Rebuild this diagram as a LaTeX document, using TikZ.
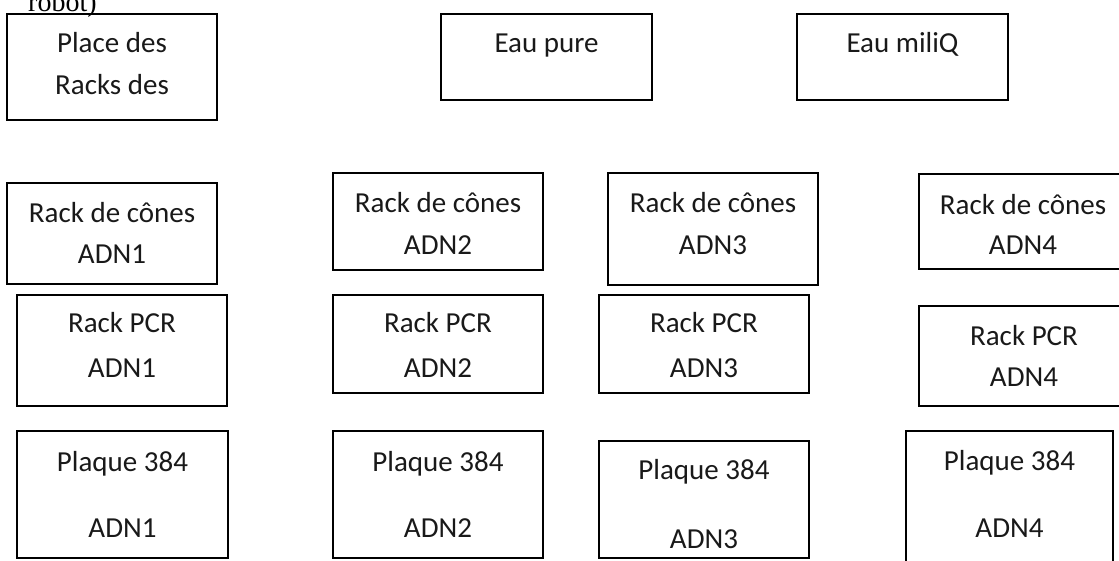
\documentclass[tikz,border=0pt]{standalone}
\usepackage{fontspec}
\setmainfont{Carlito}
\newfontfamily\serifrm{Liberation Serif}
\tikzset{
  boxn/.style={draw=black, line width=1.4pt, inner sep=0pt, fill=none},
  lbl/.style={anchor=base, inner sep=0pt, font=\fontsize{29}{35}\selectfont, text=black!90},
}
\begin{document}
\begin{tikzpicture}[x=1pt,y=-1pt]
\useasboundingbox (0,0) rectangle (1119,561);
\clip (0,0) rectangle (1119,561);
% top row
\node[anchor=base west, inner sep=0pt, font=\serifrm\fontsize{28}{32}\selectfont] (robot) at (28,12) {robot)};
\node[boxn, minimum width=210pt, minimum height=106pt] (place) at (112,67) {};
\node[lbl] (place1) at (112,53) {Place des};
\node[lbl] (place2) at (112,95) {Racks des};
\node[boxn, minimum width=211pt, minimum height=86pt] (eaup) at (546.5,57) {};
\node[lbl] (eaup1) at (546.5,53) {Eau pure};
\node[boxn, minimum width=211pt, minimum height=86pt] (eaum) at (902.5,57) {};
\node[lbl] (eaum1) at (902.5,53) {Eau miliQ};
% row 2: cones
\node[boxn, minimum width=210pt, minimum height=101pt] (c1) at (112,233.5) {};
\node[lbl] (c1a) at (112,223) {Rack de cônes};
\node[lbl] (c1b) at (112,264) {ADN1};
\node[boxn, minimum width=210pt, minimum height=97pt] (c2) at (438,221.5) {};
\node[lbl] (c2a) at (438,213) {Rack de cônes};
\node[lbl] (c2b) at (438,255) {ADN2};
\node[boxn, minimum width=210pt, minimum height=112pt] (c3) at (713,229) {};
\node[lbl] (c3a) at (713,213) {Rack de cônes};
\node[lbl] (c3b) at (713,255) {ADN3};
\node[boxn, minimum width=210pt, minimum height=95pt] (c4) at (1024,221.5) {};
\node[lbl] (c4a) at (1023,215) {Rack de cônes};
\node[lbl] (c4b) at (1023,255) {ADN4};
% row 3: PCR
\node[boxn, minimum width=210pt, minimum height=111pt] (p1) at (122,350.5) {};
\node[lbl] (p1a) at (122,333) {Rack PCR};
\node[lbl] (p1b) at (122,377) {ADN1};
\node[boxn, minimum width=210pt, minimum height=98pt] (p2) at (438,344) {};
\node[lbl] (p2a) at (438,333) {Rack PCR};
\node[lbl] (p2b) at (438,377) {ADN2};
\node[boxn, minimum width=210pt, minimum height=98pt] (p3) at (704,344) {};
\node[lbl] (p3a) at (704,333) {Rack PCR};
\node[lbl] (p3b) at (704,377) {ADN3};
\node[boxn, minimum width=210pt, minimum height=100pt] (p4) at (1024,356) {};
\node[lbl] (p4a) at (1024,345) {Rack PCR};
\node[lbl] (p4b) at (1024,386) {ADN4};
% row 4: plates
\node[boxn, minimum width=211pt, minimum height=127pt] (q1) at (122.5,494.5) {};
\node[lbl] (q1a) at (122.5,471) {Plaque 384};
\node[lbl] (q1b) at (122.5,537) {ADN1};
\node[boxn, minimum width=210pt, minimum height=127pt] (q2) at (438,494.5) {};
\node[lbl] (q2a) at (438,471) {Plaque 384};
\node[lbl] (q2b) at (438,537) {ADN2};
\node[boxn, minimum width=210pt, minimum height=117pt] (q3) at (704,499.5) {};
\node[lbl] (q3a) at (704,479) {Plaque 384};
\node[lbl] (q3b) at (704,548) {ADN3};
\node[boxn, minimum width=207pt, minimum height=150pt] (q4) at (1009.5,506) {};
\node[lbl] (q4a) at (1009.5,470) {Plaque 384};
\node[lbl] (q4b) at (1009.5,537) {ADN4};
\end{tikzpicture}
\end{document}
